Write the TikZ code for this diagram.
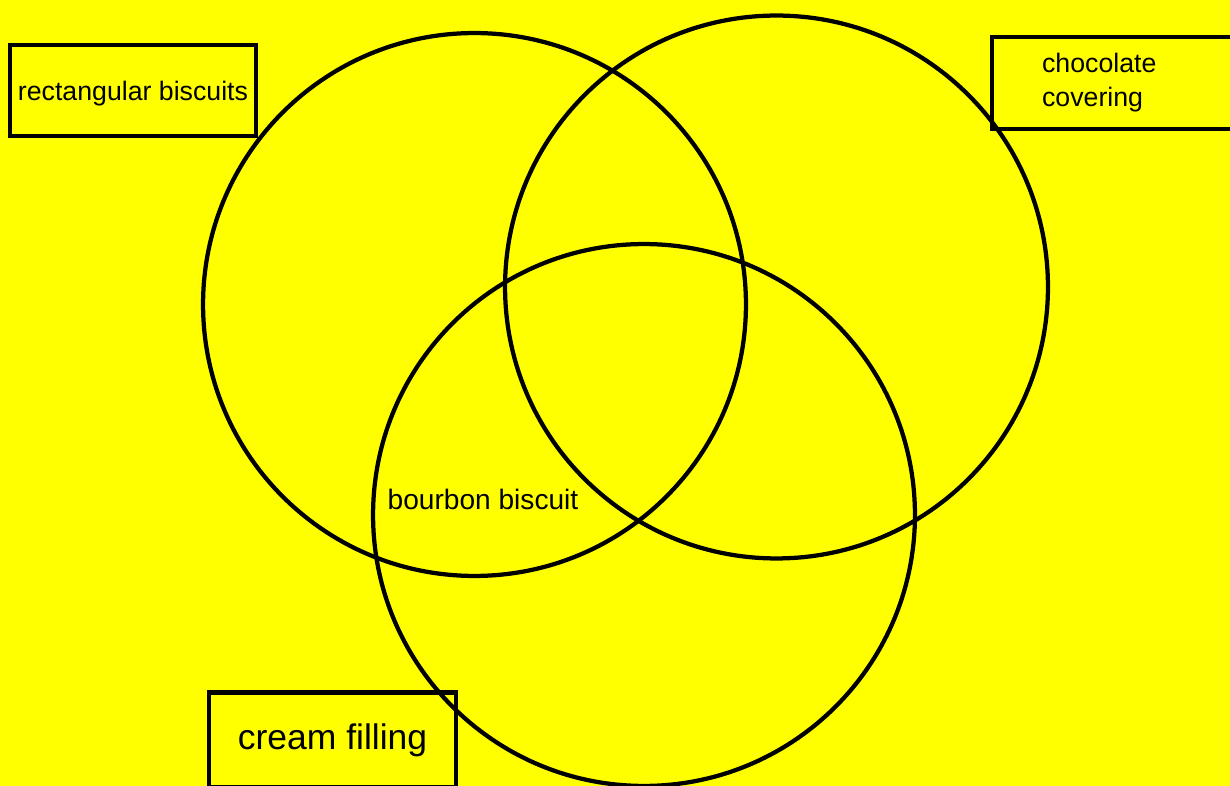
\documentclass[tikz,border=0pt]{standalone}
\usepackage{fontspec}
\setmainfont{Liberation Sans}
\usepackage{tikz}
\usetikzlibrary{positioning}
\definecolor{sfondo}{RGB}{255,255,0}

\begin{document}
\begin{tikzpicture}[x=0.02cm, y=-0.02cm, line width=0.085cm,
        box/.style={draw, rectangle, inner sep=0pt},
        txt/.style={font=\fontsize{15.2}{19.3}\selectfont}]
        % Sfondo giallo
        \fill[sfondo] (0,0) rectangle (1230,786);
        \useasboundingbox (0,0) rectangle (1230,786);

        % Etichette (riquadri)
        \node[box, txt, minimum width=4.92cm, minimum height=1.82cm, text depth=0pt] (rect) at (133,90.5) {rectangular biscuits};
        \node[box, txt, anchor=west, minimum height=1.84cm, inner xsep=1cm, text width=5cm, align=left] (choc) at (990,83) {chocolate\\covering};
        \node[box, minimum width=4.94cm, minimum height=1.9cm, font=\fontsize{20.2}{25}\selectfont] (cream) at (332.5,740) {cream filling};

        % Centri dei cerchi
        \coordinate (A) at (474.5,304.5);
        \coordinate (B) at (776.5,287);
        \coordinate (C) at (644,515);

        % Cerchi
        \draw (A) circle[radius=5.43cm];
        \draw (B) circle[radius=5.43cm];
        \draw (C) circle[radius=5.42cm];

        % Intersezione
        \node[font=\fontsize{16}{19}\selectfont] (bourbon) at (483,499) {bourbon biscuit};

    \end{tikzpicture}
\end{document}
